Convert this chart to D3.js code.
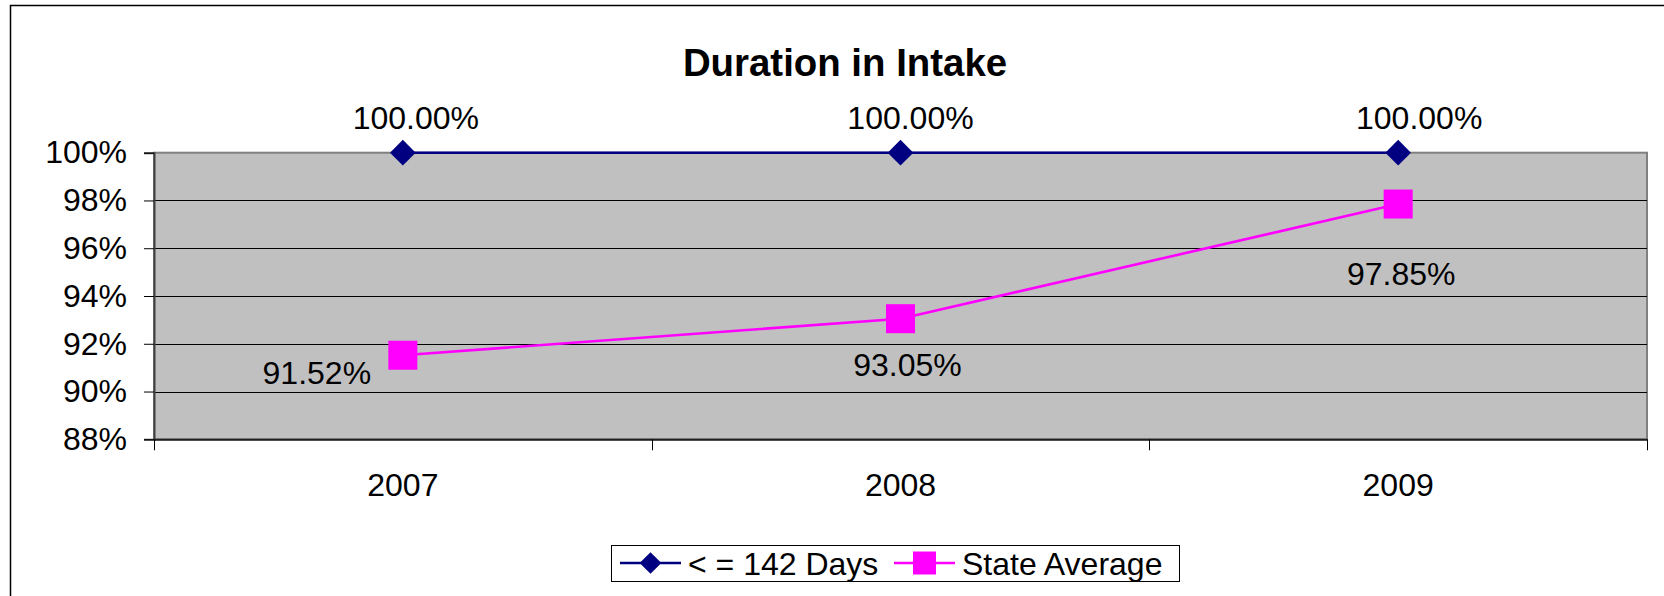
<!doctype html>
<html lang="en">
	<head>
		<meta charset="utf-8">
		<title>Duration in Intake</title>
		<script src="https://d3js.org/d3.v7.min.js"></script>
		<style>
			body { margin: 0; background: #fff; }
			text { font-family: Arial, 'Liberation Sans', sans-serif; fill: #000; }
			.grid line { stroke: #000; stroke-width: 1px; shape-rendering: crispEdges; }
		</style>
	</head>
	<body>
		<div id="chart"></div>

		<script>
			// values
			let years = ['2007', '2008', '2009']
			let within142 = [100.00, 100.00, 100.00]
			let stateAverage = [91.52, 93.05, 97.85]
			let yTicks = [88, 90, 92, 94, 96, 98, 100]
			let seriesNames = ['< = 142 Days', 'State Average']

			let width = 1664
			let height = 596
			let plot = {left: 154, right: 1647, top: 152.7, bottom: 439.3}

			let svg = d3.select('#chart')
				.append('svg')
				.attr('width', width)
				.attr('height', height)

			// chart area frame (runs off the right and bottom edge)
			svg.append('rect')
				.attr('x', 10.5)
				.attr('y', 5.5)
				.attr('width', 1700)
				.attr('height', 700)
				.attr('fill', '#fff')
				.attr('stroke', '#000')
				.attr('stroke-width', 1.5)

			svg.append('text')
				.attr('x', 845)
				.attr('y', 76)
				.attr('text-anchor', 'middle')
				.style('font-size', '38.4px')
				.style('font-weight', 'bold')
				.text('Duration in Intake')

			let x = d3.scaleBand()
				.domain(years)
				.range([plot.left, plot.right])
				.padding(0)

			let y = d3.scaleLinear()
				.domain([88, 100])
				.range([plot.bottom, plot.top])

			// plot area
			svg.append('rect')
				.attr('x', plot.left)
				.attr('y', plot.top)
				.attr('width', plot.right - plot.left)
				.attr('height', plot.bottom - plot.top)
				.attr('fill', '#c0c0c0')
				.attr('stroke', '#808080')
				.attr('stroke-width', 2)

			svg.append('g')
				.attr('class', 'grid')
				.selectAll('line')
				.data(yTicks.filter(t => t > 88 && t < 100))
				.enter().append('line')
					.attr('x1', plot.left)
					.attr('x2', plot.right)
					.attr('y1', d => Math.round(y(d)) + 0.5)
					.attr('y2', d => Math.round(y(d)) + 0.5)

			// y axis
			let yAxis = svg.append('g')
				.attr('transform', `translate(${plot.left},0)`)
				.call(d3.axisLeft(y).tickValues(yTicks).tickSize(10).tickPadding(17).tickFormat(d => d + '%'))
			yAxis.select('.domain').attr('stroke', '#404040').attr('stroke-width', 2)
			yAxis.selectAll('.tick line').attr('stroke', '#000')
			yAxis.selectAll('text')
				.style('font-size', '32px')
				.attr('font-family', null)

			// x axis, ticks on the category boundaries
			let xAxis = svg.append('g')
				.attr('transform', `translate(0,${plot.bottom})`)
				.call(d3.axisBottom(x).tickSize(0).tickPadding(34))
			xAxis.select('.domain').attr('stroke', '#202020').attr('stroke-width', 2)
			xAxis.selectAll('text')
				.style('font-size', '32px')
				.attr('font-family', null)

			svg.append('g')
				.selectAll('line')
				.data(d3.range(years.length + 1))
				.enter().append('line')
					.attr('x1', i => Math.round(plot.left + i * x.bandwidth()) + 0.5)
					.attr('x2', i => Math.round(plot.left + i * x.bandwidth()) + 0.5)
					.attr('y1', plot.bottom)
					.attr('y2', plot.bottom + 11)
					.attr('stroke', '#000')

			let cx = (d, i) => x(years[i]) + x.bandwidth() / 2
			let line = d3.line()
				.x((d, i) => cx(d, i))
				.y(d => y(d))

			let diamond = d3.symbol().type(d3.symbolDiamond2).size(420)

			// series 1
			svg.append('path')
				.datum(within142)
				.attr('d', line)
				.attr('fill', 'none')
				.attr('stroke', '#000080')
				.attr('stroke-width', 2.6)

			svg.append('g')
				.selectAll('path')
				.data(within142)
				.enter().append('path')
					.attr('transform', (d, i) => `translate(${cx(d, i)},${y(d)})`)
					.attr('d', diamond)
					.attr('fill', '#000080')

			// series 2
			svg.append('path')
				.datum(stateAverage)
				.attr('d', line)
				.attr('fill', 'none')
				.attr('stroke', '#ff00ff')
				.attr('stroke-width', 2.6)

			svg.append('g')
				.selectAll('rect')
				.data(stateAverage)
				.enter().append('rect')
					.attr('x', (d, i) => cx(d, i) - 14.5)
					.attr('y', d => y(d) - 14.5)
					.attr('width', 29)
					.attr('height', 29)
					.attr('fill', '#ff00ff')

			// data labels, nudged the way the original placed them
			let nudge1 = [[13, -24], [10, -24], [21, -24]]
			let nudge2 = [[-86, 29], [7, 57], [3, 81]]

			svg.append('g')
				.selectAll('text')
				.data(within142)
				.enter().append('text')
					.attr('x', (d, i) => cx(d, i) + nudge1[i][0])
					.attr('y', (d, i) => y(d) + nudge1[i][1])
					.attr('text-anchor', 'middle')
					.style('font-size', '32px')
					.text(d => d.toFixed(2) + '%')

			svg.append('g')
				.selectAll('text')
				.data(stateAverage)
				.enter().append('text')
					.attr('x', (d, i) => cx(d, i) + nudge2[i][0])
					.attr('y', (d, i) => y(d) + nudge2[i][1])
					.attr('text-anchor', 'middle')
					.style('font-size', '32px')
					.text(d => d.toFixed(2) + '%')

			// legend
			let legend = svg.append('g').attr('transform', 'translate(611,545)')
			legend.append('rect')
				.attr('x', 0.5)
				.attr('y', 0.5)
				.attr('width', 568)
				.attr('height', 36)
				.attr('fill', '#fff')
				.attr('stroke', '#000')

			let items = [
				{name: seriesNames[0], color: '#000080', x: 9, shape: 'diamond'},
				{name: seriesNames[1], color: '#ff00ff', x: 283, shape: 'square'},
			]
			items.forEach(it => {
				let g = legend.append('g').attr('transform', `translate(${it.x},18)`)
				g.append('line')
					.attr('x1', 0)
					.attr('x2', 61)
					.attr('stroke', it.color)
					.attr('stroke-width', 2.6)
				if (it.shape == 'diamond') {
					g.append('path')
						.attr('transform', 'translate(30.5,0)')
						.attr('d', d3.symbol().type(d3.symbolDiamond2).size(300))
						.attr('fill', it.color)
				} else {
					g.append('rect')
						.attr('x', 19)
						.attr('y', -11.5)
						.attr('width', 23)
						.attr('height', 23)
						.attr('fill', it.color)
				}
				g.append('text')
					.attr('x', 68)
					.attr('y', 11.5)
					.style('font-size', '32px')
					.text(it.name)
			})
		</script>
	</body>
</html>
